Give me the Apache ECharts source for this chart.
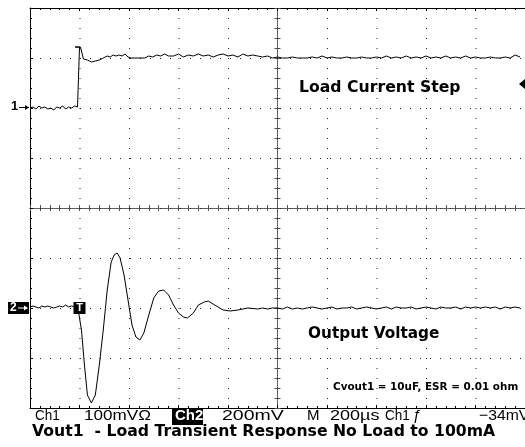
<!DOCTYPE html>
<html>
<head>
<meta charset="utf-8">
<script src="https://cdn.jsdelivr.net/npm/echarts@6/dist/echarts.min.js"></script>
<style>
  html, body { margin: 0; padding: 0; background: #fff; }
  #scope { width: 525px; height: 447px; }
</style>
</head>
<body>
<div id="scope"></div>
<script>
// Channel 1: load current (mA) versus time from the trigger (µs)
const ch1Time = [
  -200, -188, -176, -164, -152, -140, -128, -116, -104, -92, -80, -68, -56, -44, -32, -20, -8,
  0, 0, -18, 4, 16, 32, 48, 64, 80, 96, 112, 124, 136, 148, 160, 172, 184, 196, 208, 240, 264,
  280, 296, 312, 328, 344, 360,
  380, 400, 420, 440, 460, 480, 500, 520, 540, 560, 580, 600, 620, 640, 660, 680, 700, 720,
  740, 760, 780, 800, 820, 840, 860, 880, 900, 920, 940, 960, 980, 1000, 1020, 1040, 1060,
  1080, 1100, 1120, 1140, 1160, 1180, 1200, 1220, 1240, 1260, 1280, 1300, 1320, 1340, 1360,
  1380, 1400, 1420, 1440, 1460, 1480, 1500, 1520, 1540, 1560, 1580, 1600, 1620, 1640, 1660,
  1680, 1700, 1720, 1740, 1760, 1780
];
const ch1Current = [
  0, 2, -2, 4, 0, 2, -2, 0, -4, 2, 0, 4, -2, 2, 0, 4, 2,
  4, 122, 122, 122, 98, 96, 92, 94, 96, 100, 104, 102, 106, 104, 106, 104, 108, 102, 100, 100, 100,
  104, 102, 106, 104, 108, 104,
  104, 108, 102, 106, 104, 108, 104, 106, 102, 106, 108, 104, 106, 102, 108, 104, 106, 104,
  102, 104, 100, 102, 100, 100, 102, 100, 100, 100, 102, 100, 104, 100, 102, 100, 100,
  102, 100, 100, 102, 100, 100, 102, 100, 104, 100, 102, 100, 104, 100, 102,
  100, 104, 100, 102, 100, 104, 100, 102, 100, 104, 100, 102, 100, 100, 102,
  100, 100, 102, 100, 106, 102
];

// Channel 2: output voltage deviation (mV) versus time from the trigger (µs)
const ch2Time = [
  -200, -188, -176, -164, -152, -140, -128, -116, -104, -92, -80, -68, -56, -44, -32, -20, -8,
  0, 8, 20, 32, 48, 64, 80, 96, 112, 128, 140, 152, 164, 180, 196, 212, 228, 244, 260, 280,
  300, 320, 340, 360, 380, 400, 420, 436, 460, 480, 504, 520, 540, 560, 580, 608, 640, 680,
  720, 740, 760, 780, 800, 820, 840, 860, 880, 900, 920, 940, 960, 980, 1000, 1020, 1040,
  1060, 1080, 1100, 1120, 1140, 1160, 1180, 1200, 1220, 1240, 1260, 1280, 1300, 1320, 1340,
  1360, 1380, 1400, 1420, 1440, 1460, 1480, 1500, 1520, 1540, 1560, 1580, 1600, 1620, 1640,
  1660, 1680, 1700, 1720, 1740, 1760, 1780
];
const ch2Voltage = [
  4, 8, 4, 0, 8, 4, 8, 4, 0, 4, 8, 4, 12, 4, 8, 4, 8,
  0, -88, -228, -348, -380, -348, -228, -88, 72, 184, 212, 220, 200, 132, 32, -68, -116, -128, -100, -28,
  40, 68, 72, 52, 12, -20, -36, -40, -20, 12, 24, 28, 16, 4, -8, -12, -8, 0,
  -4, 0, -4, 0, 0, -4, 4, -4, 0, -4, 0, 4, 0, -4, 0, 4, -4, 0, 0,
  4, -4, 0, 4, 0, -4, 0, 4, -4, 4, 0, 0, 4, -4,
  0, 4, 0, -4, 4, 0, 0, 4, -4, 4, 0, 4, 0, 4,
  0, 4, -4, 4, 0, 4, 0
];

// Horizontal: 200 µs/div, ten divisions; vertical: eight divisions
const timeRange = [-200, 1800];
const timePerDiv = 200;
const ch1Range = [-600, 200];   // 100 mA/div, ground two divisions above centre
const ch2Range = [-400, 1200];  // 200 mV/div, ground two divisions below centre
const ch2PerDiv = 200;

// Readout line under the graticule
const statusItems = [
  { text: 'Ch1', x: 35, sx: 0.9 },
  { text: '100mVΩ', x: 84, sx: 1.14 },
  { text: 'Ch2', x: 175, sx: 1.0, inverse: true },
  { text: '200mV', x: 222, sx: 1.3 },
  { text: 'M', x: 307, sx: 1.0 },
  { text: '200µs', x: 330, sx: 1.2 },
  { text: 'Ch1', x: 385, sx: 0.9 },
  { text: 'ƒ', x: 413, sx: 1.0 },
  { text: '−34mV', x: 479, sx: 1.05 }
];
const titleText = 'Vout1  - Load Transient Response No Load to 100mA';

const chart = echarts.init(document.getElementById('scope'), null, { renderer: 'canvas' });

const pair = (ts, vs) => ts.map((t, i) => [t, vs[i]]);

// Graticule division lines: kind 0 = vertical (time), kind 1 = horizontal (ch2 scale)
const graticule = [];
for (let t = timeRange[0] + timePerDiv; t < timeRange[1]; t += timePerDiv) graticule.push([0, t]);
for (let v = ch2Range[0] + ch2PerDiv; v < ch2Range[1]; v += ch2PerDiv) graticule.push([1, v]);

const borderTick = { show: true, inside: true, length: 3, lineStyle: { color: '#000', width: 1 } };
const borderMinor = { show: true, splitNumber: 5, length: 2, lineStyle: { color: '#000', width: 1 } };
const centreLine = { onZero: true, lineStyle: { color: '#555', width: 1, type: [1, 1] } };

function centreAxis(inside, zeroIndex) {
  return {
    type: 'value', min: -5, max: 5, interval: 1,
    axisLine: Object.assign({ onZeroAxisIndex: zeroIndex }, centreLine),
    axisTick: { show: true, inside: inside, length: 3, lineStyle: { color: '#555' } },
    minorTick: { show: true, splitNumber: 5, length: 3, lineStyle: { color: '#555' } },
    axisLabel: { show: false },
    splitLine: { show: false }
  };
}

const statusGraphics = [];
statusItems.forEach(function (s) {
  if (s.inverse) {
    statusGraphics.push({
      type: 'rect', shape: { x: 172, y: 409, width: 31, height: 16 },
      style: { fill: '#000' }
    });
  }
  statusGraphics.push({
    type: 'text', x: s.x, y: 416, scaleX: s.sx,
    style: {
      text: s.text, fill: s.inverse ? '#fff' : '#000',
      font: (s.inverse ? 'bold ' : '') + '15px "Liberation Sans", Arial, sans-serif',
      textVerticalAlign: 'middle'
    }
  });
});

const boldFont = (px) => 'bold ' + px + 'px "DejaVu Sans", sans-serif';

chart.setOption({
  animation: false,
  backgroundColor: '#fff',
  grid: { left: 30, top: 8, width: 500, height: 400, show: false },
  xAxis: [
    {
      type: 'value', min: timeRange[0], max: timeRange[1], interval: timePerDiv, position: 'bottom',
      axisLine: { onZero: false, lineStyle: { color: '#000', width: 1 } },
      axisTick: borderTick, minorTick: borderMinor,
      axisLabel: { show: false }, splitLine: { show: false }
    },
    {
      type: 'value', min: timeRange[0], max: timeRange[1], interval: timePerDiv, position: 'top',
      axisLine: { onZero: false, lineStyle: { color: '#000', width: 1 } },
      axisTick: borderTick, minorTick: borderMinor,
      axisLabel: { show: false }, splitLine: { show: false }
    },
    centreAxis(true, 2),
    centreAxis(false, 2)
  ],
  yAxis: [
    { type: 'value', min: ch1Range[0], max: ch1Range[1], show: false, axisLine: { onZero: false } },
    {
      type: 'value', min: ch2Range[0], max: ch2Range[1], interval: ch2PerDiv, position: 'left',
      axisLine: { onZero: false, lineStyle: { color: '#000', width: 1 } },
      axisTick: borderTick, minorTick: borderMinor,
      axisLabel: { show: false }, splitLine: { show: false }
    },
    Object.assign(centreAxis(true, 2), { min: -4, max: 4 }),
    Object.assign(centreAxis(false, 2), { min: -4, max: 4 })
  ],
  series: [
    {
      name: 'graticule', type: 'custom', xAxisIndex: 0, yAxisIndex: 1,
      silent: true, z: 1, data: graticule,
      renderItem: function (params, api) {
        const kind = api.value(0), v = api.value(1);
        let a, b;
        if (kind === 0) {
          a = api.coord([v, ch2Range[1]]); b = api.coord([v, ch2Range[0]]);
          a[0] += 0.5; b[0] += 0.5;
        } else {
          a = api.coord([timeRange[0], v]); b = api.coord([timeRange[1], v]);
          a[1] += 0.5; b[1] += 0.5;
        }
        return {
          type: 'line',
          shape: { x1: a[0], y1: a[1], x2: b[0], y2: b[1] },
          style: { stroke: '#222', lineWidth: 1, lineDash: [1, 9], fill: null }
        };
      }
    },
    {
      name: 'Load Current', type: 'line', xAxisIndex: 0, yAxisIndex: 0, z: 3,
      data: pair(ch1Time, ch1Current), showSymbol: false, symbol: 'none',
      lineStyle: { color: '#000', width: 1 }
    },
    {
      name: 'Output Voltage', type: 'line', xAxisIndex: 0, yAxisIndex: 1, z: 3,
      data: pair(ch2Time, ch2Voltage), showSymbol: false, symbol: 'none',
      lineStyle: { color: '#000', width: 1 },
      markPoint: {
        symbol: 'rect', symbolSize: 12,
        itemStyle: { color: '#000' },
        label: { show: true, formatter: 'T', color: '#fff', fontSize: 11, fontWeight: 'bold', position: 'inside' },
        data: [{ coord: [0, 0] }]
      }
    }
  ],
  graphic: [
    // channel ground markers
    { type: 'text', x: 11, y: 100, style: { text: '1', font: 'bold 13px "Liberation Sans", Arial, sans-serif', fill: '#000' } },
    { type: 'polyline', shape: { points: [[19, 107.5], [29, 107.5]] }, style: { stroke: '#000', lineWidth: 1 } },
    { type: 'polygon', shape: { points: [[29, 107.5], [25, 105], [25, 110]] }, style: { fill: '#000' } },
    { type: 'rect', shape: { x: 8, y: 302, width: 21, height: 12 }, style: { fill: '#000' } },
    { type: 'text', x: 10, y: 302, style: { text: '2', font: 'bold 12px "Liberation Sans", Arial, sans-serif', fill: '#fff' } },
    { type: 'polyline', shape: { points: [[18, 308], [27, 308]] }, style: { stroke: '#fff', lineWidth: 1 } },
    { type: 'polygon', shape: { points: [[28, 308], [24, 305.5], [24, 310.5]] }, style: { fill: '#fff' } },
    // trigger level marker
    { type: 'polygon', shape: { points: [[519, 84], [525, 79], [525, 89]] }, style: { fill: '#000' } },
    // trace annotations
    { type: 'text', x: 299, y: 88, scaleX: 1.045, style: { text: 'Load Current Step', font: boldFont(15), fill: '#000', textVerticalAlign: 'middle' } },
    { type: 'text', x: 308, y: 334, scaleX: 1.02, style: { text: 'Output Voltage', font: boldFont(15), fill: '#000', textVerticalAlign: 'middle' } },
    { type: 'text', x: 333, y: 387, scaleX: 1.04, style: { text: 'Cvout1 = 10uF, ESR = 0.01 ohm', font: boldFont(10), fill: '#000', textVerticalAlign: 'middle' } },
    { type: 'text', x: 32, y: 432, scaleX: 1.045, style: { text: titleText, font: boldFont(15), fill: '#000', textVerticalAlign: 'middle' } }
  ].concat(statusGraphics)
});
</script>
</body>
</html>
